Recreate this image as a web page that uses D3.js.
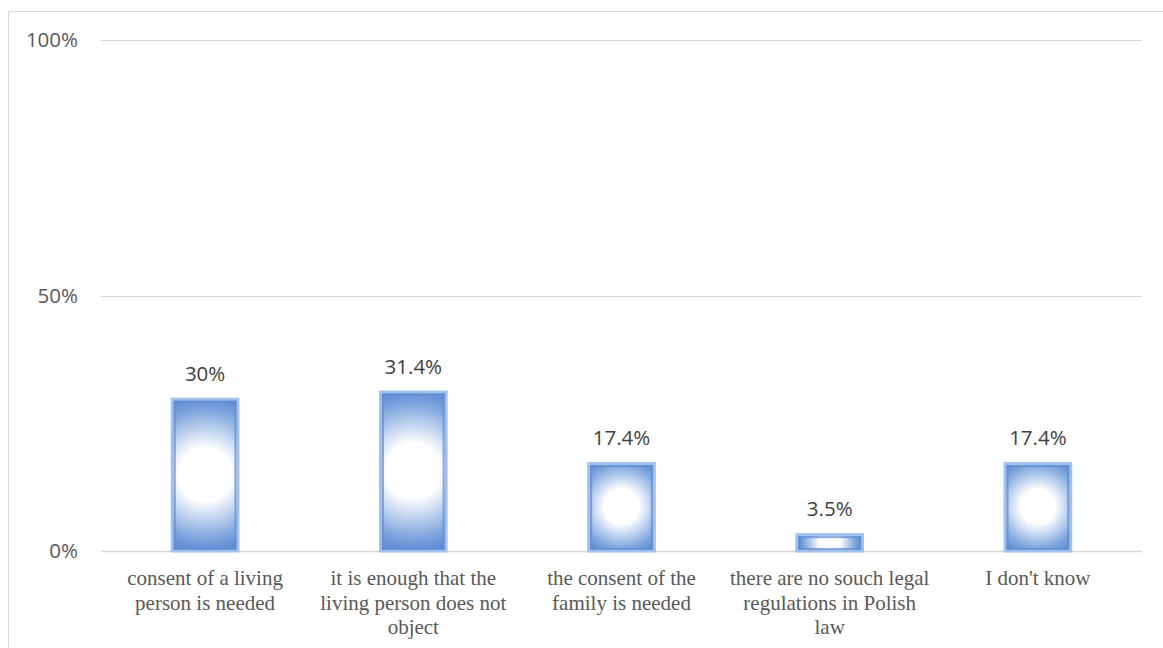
<!DOCTYPE html>
<html>
<head>
<meta charset="utf-8">
<script src="https://cdn.jsdelivr.net/npm/d3@7"></script>
<style>
  html, body { margin: 0; padding: 0; background: #fff; }
  svg { display: block; }
</style>
</head>
<body>
<svg id="chart" width="1163" height="648"></svg>
<script>
// Survey answers: who must agree to organ donation from a living donor
const categories = [
  ["consent of a living", "person is needed"],
  ["it is enough that the", "living person does not", "object"],
  ["the consent of the", "family is needed"],
  ["there are no souch legal", "regulations in Polish", "law"],
  ["I don't know"]
];
const values = [30, 31.4, 17.4, 3.5, 17.4];
const valueLabels = ["30%", "31.4%", "17.4%", "3.5%", "17.4%"];
const yTicks = [0, 50, 100];
const yTickLabels = ["0%", "50%", "100%"];

const svg = d3.select("#chart");
const plot = { left: 101, right: 1142, top: 40, bottom: 551 };
const sansFont = "'Open Sans', Lato, sans-serif";

const x = d3.scaleBand()
  .domain(d3.range(values.length))
  .range([plot.left, plot.right])
  .paddingInner(0.67)
  .paddingOuter(0.335);

const y = d3.scaleLinear().domain([0, 100]).range([plot.bottom, plot.top]);

// chart-area frame (left and top edges)
svg.append("path")
  .attr("d", "M8.5,648 V11.5 H1163")
  .attr("fill", "none")
  .attr("stroke", "#d9d9d9")
  .attr("stroke-width", 1);

// one radial glow per bar: white centre fading to blue, radius = half diagonal
const defs = svg.append("defs");
values.forEach((v, i) => {
  const x0 = x(i), w = x.bandwidth();
  const y0 = y(v), h = y(0) - y(v);
  const g = defs.append("radialGradient")
    .attr("id", "glow" + i)
    .attr("gradientUnits", "userSpaceOnUse")
    .attr("cx", x0 + w / 2)
    .attr("cy", y0 + h / 2)
    .attr("r", Math.hypot(w / 2 - 3, h / 2 - 3));
  [[0, "#ffffff"], [0.33, "#ffffff"], [0.55, "#c3d5f0"], [0.8, "#7fa6de"], [1, "#5887d1"]]
    .forEach(([o, c]) => g.append("stop").attr("offset", o).attr("stop-color", c));
});

// horizontal gridlines
svg.append("g").selectAll("line")
  .data(yTicks)
  .join("line")
  .attr("x1", plot.left).attr("x2", plot.right)
  .attr("y1", d => Math.round(y(d)) + 0.5).attr("y2", d => Math.round(y(d)) + 0.5)
  .attr("stroke", "#d9d9d9")
  .attr("stroke-width", d => d === 0 ? 1.5 : 1);

// y-axis labels
svg.append("g").selectAll("text")
  .data(yTicks)
  .join("text")
  .attr("x", 78)
  .attr("y", d => y(d))
  .attr("dy", "0.35em")
  .attr("text-anchor", "end")
  .attr("font-family", sansFont)
  .attr("font-size", 20.5)
  .attr("fill", "#595959")
  .text((d, i) => yTickLabels[i]);

// bars
const bars = svg.append("g").selectAll("g")
  .data(values)
  .join("g");

bars.append("rect")
  .attr("x", (d, i) => x(i) + 1.5)
  .attr("y", d => y(d) + 1.5)
  .attr("width", x.bandwidth() - 3)
  .attr("height", d => y(0) - y(d) - 1.5)
  .attr("fill", (d, i) => `url(#glow${i})`)
  .attr("stroke", "#a2c2ec")
  .attr("stroke-width", 3);

// darker inner edge just inside the light outline
bars.append("rect")
  .attr("x", (d, i) => x(i) + 4)
  .attr("y", d => y(d) + 4)
  .attr("width", x.bandwidth() - 8)
  .attr("height", d => Math.max(0, y(0) - y(d) - 6))
  .attr("fill", "none")
  .attr("stroke", "#5f8fd4")
  .attr("stroke-opacity", 0.75)
  .attr("stroke-width", 2);

// value labels
svg.append("g").selectAll("text")
  .data(values)
  .join("text")
  .attr("x", (d, i) => x(i) + x.bandwidth() / 2)
  .attr("y", d => y(d) - 17)
  .attr("text-anchor", "middle")
  .attr("font-family", sansFont)
  .attr("font-size", 20.5)
  .attr("fill", "#404040")
  .text((d, i) => valueLabels[i]);

// category labels
const cat = svg.append("g").selectAll("text")
  .data(categories)
  .join("text")
  .attr("x", (d, i) => x(i) + x.bandwidth() / 2)
  .attr("y", 585)
  .attr("text-anchor", "middle")
  .attr("font-family", "'Liberation Serif', 'Times New Roman', serif")
  .attr("font-size", 21)
  .attr("fill", "#595959");

cat.selectAll("tspan")
  .data(d => d)
  .join("tspan")
  .attr("x", function () { return d3.select(this.parentNode).attr("x"); })
  .attr("dy", (d, i) => i === 0 ? 0 : 24.5)
  .text(d => d);
</script>
</body>
</html>
